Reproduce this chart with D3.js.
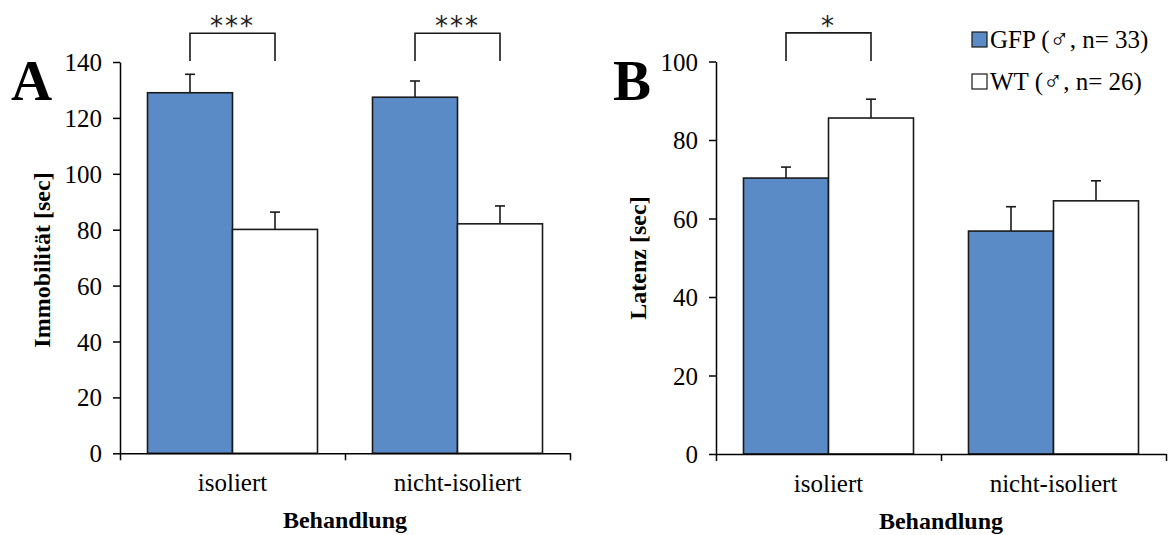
<!DOCTYPE html>
<html>
<head>
<meta charset="utf-8">
<script src="https://cdn.jsdelivr.net/npm/d3@7"></script>
<style>
  body { margin: 0; background: #fff; }
  text { font-family: "Liberation Serif", "Times New Roman", serif; fill: #000; }
</style>
</head>
<body>
<div id="chart"></div>
<script>
// data
const categories = ["isoliert", "nicht-isoliert"];
const groups = ["GFP", "WT"];
const legendNames = ["GFP", "WT"];
const legendN = ["33", "26"];

// panel A: Immobilität
const immobGFP = [129.0, 127.4];
const immobGFPErr = [6.6, 5.8];
const immobWT = [80.1, 82.1];
const immobWTErr = [6.2, 6.4];
const immobTicks = [0, 20, 40, 60, 80, 100, 120, 140];

// panel B: Latenz
const latGFP = [70.3, 56.8];
const latGFPErr = [2.8, 6.2];
const latWT = [85.6, 64.5];
const latWTErr = [4.8, 5.1];
const latTicks = [0, 20, 40, 60, 80, 100];

const svgWidth = 1171;
const svgHeight = 535;

const colors = { GFP: "#5b8bc7", WT: "#ffffff" };

const svg = d3.select("#chart")
  .append("svg")
  .attr("width", svgWidth)
  .attr("height", svgHeight);

function drawPanel(cfg) {
  const g = svg.append("g");

  const y = d3.scaleLinear()
    .domain([0, cfg.yMax])
    .range([cfg.bottom, cfg.top]);

  const x0 = d3.scaleBand()
    .domain(categories)
    .range([cfg.left, cfg.right])
    .padding(0);

  const pad = 27.5;
  const x1 = d3.scaleBand()
    .domain(groups)
    .range([pad, x0.bandwidth() - pad])
    .padding(0);

  // rows for bars
  const rows = [];
  categories.forEach((c, i) => {
    rows.push({ cat: c, grp: "GFP", v: cfg.gfp[i], e: cfg.gfpErr[i] });
    rows.push({ cat: c, grp: "WT", v: cfg.wt[i], e: cfg.wtErr[i] });
  });

  // bars
  g.selectAll(".bar")
    .data(rows)
    .enter()
    .append("rect")
    .attr("x", d => x0(d.cat) + x1(d.grp))
    .attr("y", d => y(d.v))
    .attr("width", x1.bandwidth())
    .attr("height", d => y(0) - y(d.v))
    .attr("fill", d => colors[d.grp])
    .attr("stroke", "#1a1a1a")
    .attr("stroke-width", 1.6);

  // error bars (upper only)
  const cap = 5;
  const err = g.selectAll(".err")
    .data(rows)
    .enter()
    .append("g")
    .attr("stroke", "#1a1a1a")
    .attr("stroke-width", 1.6);
  err.append("line")
    .attr("x1", d => x0(d.cat) + x1(d.grp) + x1.bandwidth() / 2)
    .attr("x2", d => x0(d.cat) + x1(d.grp) + x1.bandwidth() / 2)
    .attr("y1", d => y(d.v))
    .attr("y2", d => y(d.v + d.e));
  err.append("line")
    .attr("x1", d => x0(d.cat) + x1(d.grp) + x1.bandwidth() / 2 - cap)
    .attr("x2", d => x0(d.cat) + x1(d.grp) + x1.bandwidth() / 2 + cap)
    .attr("y1", d => y(d.v + d.e))
    .attr("y2", d => y(d.v + d.e));

  // y axis
  const yAxis = g.append("g")
    .attr("transform", `translate(${cfg.left},0)`)
    .call(d3.axisLeft(y).tickValues(cfg.ticks).tickSize(7).tickSizeOuter(0).tickPadding(11));
  yAxis.selectAll("text")
    .style("font-family", "'Liberation Serif', serif")
    .style("font-size", "25px")
    .attr("dy", "0.34em");
  yAxis.selectAll("path, line")
    .attr("stroke", "#000")
    .attr("stroke-width", 1.5);

  // x axis: ticks at category boundaries
  const xb = d3.scaleLinear()
    .domain([0, categories.length])
    .range([cfg.left, cfg.right]);
  const xAxis = g.append("g")
    .attr("transform", `translate(0,${y(0)})`)
    .call(d3.axisBottom(xb).tickValues(d3.range(categories.length + 1)).tickFormat("").tickSize(7).tickSizeOuter(0));
  xAxis.selectAll("path, line")
    .attr("stroke", "#000")
    .attr("stroke-width", 1.5);

  // category labels
  g.selectAll(".cat")
    .data(categories)
    .enter()
    .append("text")
    .attr("x", d => x0(d) + x0.bandwidth() / 2)
    .attr("y", cfg.bottom + 38)
    .attr("text-anchor", "middle")
    .style("font-size", "25px")
    .text(d => d);

  // axis titles
  g.append("text")
    .attr("x", (cfg.left + cfg.right) / 2)
    .attr("y", cfg.bottom + 75)
    .attr("text-anchor", "middle")
    .style("font-size", "24px")
    .style("font-weight", "bold")
    .text("Behandlung");

  g.append("text")
    .attr("transform", `translate(${cfg.titleX},${cfg.titleY}) rotate(-90)`)
    .attr("text-anchor", "middle")
    .style("font-size", "24px")
    .style("font-weight", "bold")
    .text(cfg.title);

  // panel letter
  g.append("text")
    .attr("x", cfg.letterX)
    .attr("y", 100)
    .style("font-size", "57px")
    .style("font-weight", "bold")
    .text(cfg.letter);

  // significance brackets
  cfg.sig.forEach(s => {
    const xa = x0(s.cat) + x1("GFP") + x1.bandwidth() / 2;
    const xc = x0(s.cat) + x1("WT") + x1.bandwidth() / 2;
    g.append("path")
      .attr("d", `M${xa},${y(s.low)}V${y(s.high)}H${xc}V${y(s.low)}`)
      .attr("fill", "none")
      .attr("stroke", "#1a1a1a")
      .attr("stroke-width", 1.6);
    g.append("text")
      .attr("x", (xa + xc) / 2)
      .attr("y", y(s.high) + 2)
      .attr("text-anchor", "middle")
      .style("font-family", "'DejaVu Sans', sans-serif")
      .style("font-size", "26px")
      .style("letter-spacing", "2px")
      .style("fill", "#222")
      .text(s.label);
  });
}

drawPanel({
  left: 120, right: 570, top: 62, bottom: 453.3,
  yMax: 140, ticks: immobTicks,
  gfp: immobGFP, gfpErr: immobGFPErr, wt: immobWT, wtErr: immobWTErr,
  title: "Immobilität [sec]", titleX: 50, titleY: 260,
  letter: "A", letterX: 11,
  sig: [
    { cat: "isoliert", low: 140.4, high: 150.3, label: "***" },
    { cat: "nicht-isoliert", low: 140.4, high: 150.3, label: "***" }
  ]
});

drawPanel({
  left: 716, right: 1166, top: 61.5, bottom: 454,
  yMax: 100, ticks: latTicks,
  gfp: latGFP, gfpErr: latGFPErr, wt: latWT, wtErr: latWTErr,
  title: "Latenz [sec]", titleX: 646, titleY: 258,
  letter: "B", letterX: 613,
  sig: [
    { cat: "isoliert", low: 100.1, high: 107.3, label: "*" }
  ]
});

// legend
const legend = svg.append("g")
  .attr("transform", "translate(972,32)");
const legendRow = legend.selectAll(".row")
  .data(groups)
  .enter()
  .append("g")
  .attr("transform", (d, i) => `translate(0,${i * 42})`);
legendRow.append("rect")
  .attr("width", 15)
  .attr("height", 15)
  .attr("fill", d => colors[d])
  .attr("stroke", "#1a1a1a")
  .attr("stroke-width", 1.2);
const legendText = legendRow.append("text")
  .attr("x", 18)
  .attr("y", 16)
  .style("font-size", "25px");
legendText.append("tspan").text((d, i) => legendNames[i] + " (");
legendText.append("tspan")
  .style("font-family", "'DejaVu Sans', sans-serif")
  .style("font-weight", "200")
  .style("font-size", "27px")
  .text("\u2642");
legendText.append("tspan").text((d, i) => ", n= " + legendN[i] + ")");
</script>
</body>
</html>
